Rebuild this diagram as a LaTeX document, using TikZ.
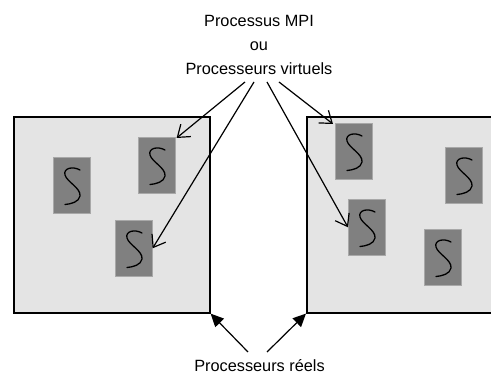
\documentclass[tikz,border=0pt]{standalone}
\usepackage{fontspec}
\setmainfont{Liberation Sans}
\usetikzlibrary{arrows.meta}
\definecolor{nodefill}{HTML}{E4E4E4}
\definecolor{procfill}{HTML}{808080}
\definecolor{procedge}{HTML}{A8A8A8}
\tikzset{
  machine/.style={draw=black, fill=nodefill, line width=1.6pt, inner sep=0pt,
    minimum height=196pt, anchor=north west},
  proc/.style={draw=procedge, fill=procfill, line width=0.6pt, inner sep=0pt,
    minimum width=37pt, minimum height=56pt, anchor=north west},
  lbl/.style={font=\fontsize{16.3}{19}\selectfont, anchor=base, inner sep=0pt},
  sline/.style={black, line width=1.3pt, line cap=round},
  openarrow/.style={line width=1.2pt, -{Straight Barb[length=11pt,width=16pt,line width=1.2pt]}},
  fullarrow/.style={line width=1.2pt, -{Triangle[length=13pt,width=12pt]}},
  scurve/.pic={
    \draw[sline] (27,13) .. controls (20,9) and (10,11) .. (12,18)
      .. controls (14,25) and (28,31) .. (27,39)
      .. controls (26,45) and (18,47) .. (12,47.5);
  }
}
\begin{document}
\begin{tikzpicture}[x=1pt, y=-1pt]
  \clip (0,0) rectangle (491,374);

  % the two physical processors
  \node[machine, minimum width=196pt] (L) at (13,116) {};
  \node[machine, minimum width=190pt] (R) at (306,116) {};

  % virtual processors inside them
  \foreach \n/\x/\y in {A/53/157, B/138/137, C/115/220,
                        D/335/123, E/445/147, F/348/199, G/424/229} {
    \node[proc] (\n) at (\x,\y) {};
    \pic at (\n.north west) {scurve};
  }

  % labels
  \node[lbl] (t1) at (259,27) {Processus MPI};
  \node[lbl] (t2) at (259,51) {ou};
  \node[lbl] (t3) at (259,75) {Processeurs virtuels};
  \node[lbl] (t4) at (259.5,372) {Processeurs réels};

  % arrows from the upper label to the virtual processors
  \coordinate (s1) at (245,82);
  \coordinate (s2) at (254,82);
  \coordinate (s3) at (267,82);
  \coordinate (s4) at (279,82);
  \draw[openarrow] (s1) -- ([xshift=1pt,yshift=-1pt]B.north east);
  \draw[openarrow] (s2) -- (C.east);
  \draw[openarrow] (s3) -- (F.west);
  \draw[openarrow] (s4) -- ([xshift=-2pt,yshift=-1pt]D.north west);

  % arrows from the lower label to the physical processors
  \coordinate (b1) at (248,352);
  \coordinate (b2) at (267,352);
  \draw[fullarrow] (b1) -- (L.south east);
  \draw[fullarrow] (b2) -- (R.south west);
\end{tikzpicture}
\end{document}
